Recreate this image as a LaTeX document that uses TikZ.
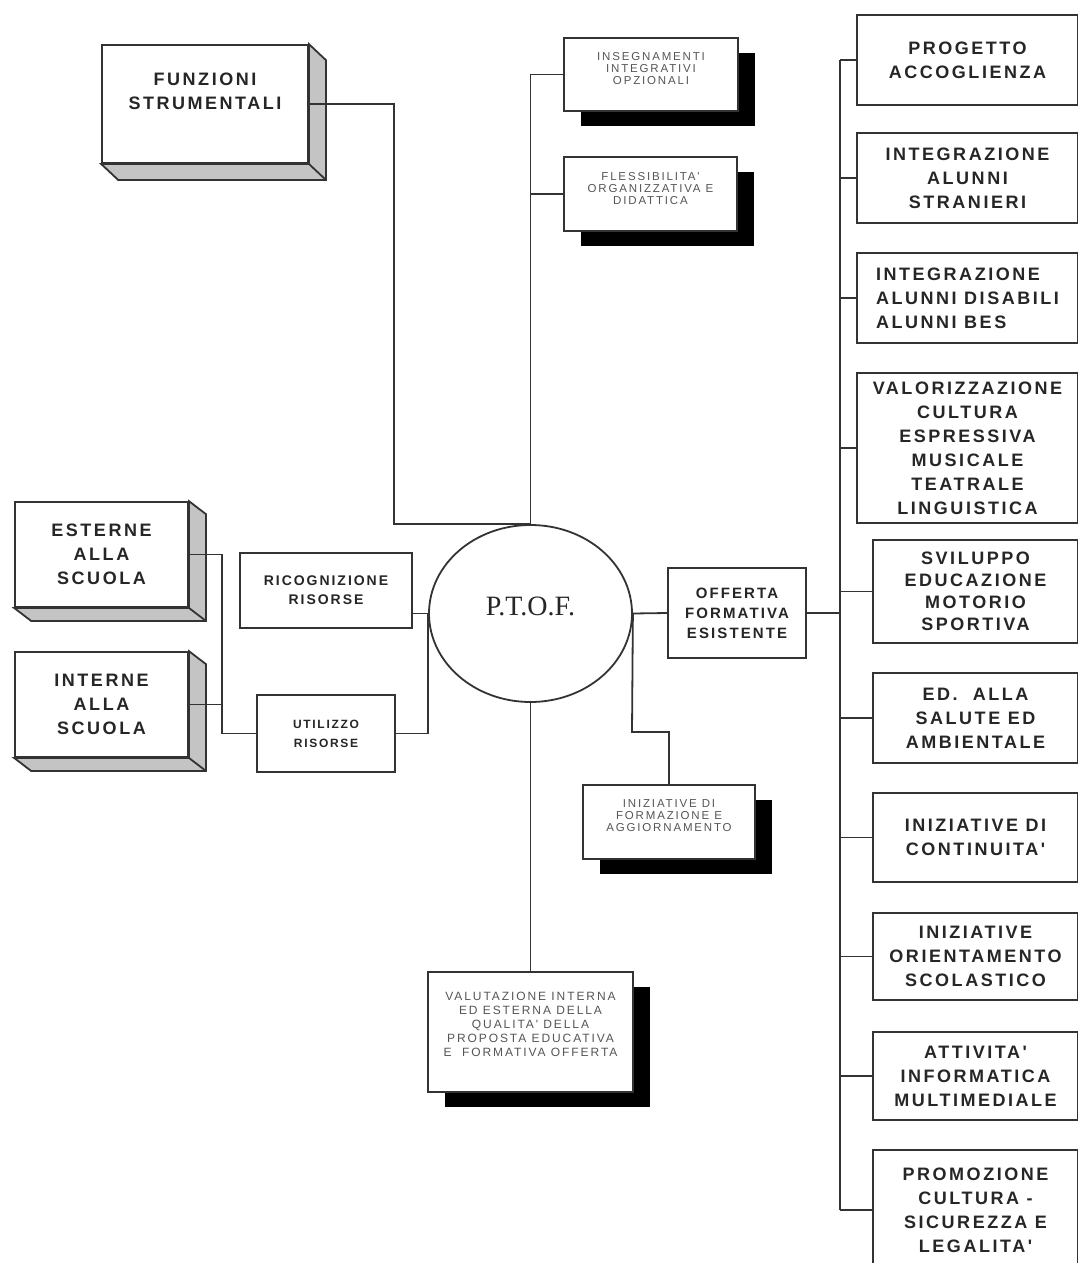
\documentclass[tikz,border=0pt]{standalone}
\usepackage{fontspec}
\usepackage{tikz}
\usetikzlibrary{shapes.geometric,shadows,calc}
\newfontfamily\sanstesto[LetterSpace=14]{Liberation Sans}
\newfontfamily\sanspiccolo[LetterSpace=16]{Liberation Sans}
\newfontfamily\serifptof{Liberation Serif}
\definecolor{linea}{HTML}{333333}
\definecolor{fianco}{HTML}{C4C4C4}
\definecolor{testo}{HTML}{262626}
\definecolor{testochiaro}{HTML}{555555}

\begin{document}
\begin{tikzpicture}[x=1pt,y=-1pt,
	conn/.style={draw=linea,line width=1.8pt},
	cubo/.style={conn,fill=white,align=center,inner sep=0pt,text=testo,
		font=\sanstesto\bfseries\fontsize{18}{24}\selectfont},
	voce/.style={conn,fill=white,align=center,inner sep=0pt,text=testo,
		font=\sanstesto\bfseries\fontsize{18}{24}\selectfont},
	riquadro/.style={conn,fill=white,align=center,inner sep=0pt,text=testo,
		font=\sanstesto\bfseries\fontsize{14}{19}\selectfont},
	ombra/.style={conn,fill=white,align=center,inner sep=0pt,text=testochiaro,text depth=12pt,
		font=\sanspiccolo\fontsize{11.5}{12}\selectfont,
		drop shadow={shadow xshift=17pt,shadow yshift=-15pt,fill=black,opacity=1}}]

	\fill[white] (0,0) rectangle (1077,1263);
	\useasboundingbox (0,0) rectangle (1077,1263);

	% centro
	\node[ellipse,conn,fill=white,minimum width=203pt,minimum height=177pt,inner sep=0pt,
		text=testo,text depth=15pt,font=\serifptof\fontsize{28}{30}\selectfont] (ptof) at (530.5,613.5) {P.T.O.F.};

	% riquadri in rilievo
	\node[cubo,minimum width=206pt,minimum height=118pt,text depth=26pt] (funz) at (205,104) {FUNZIONI\\STRUMENTALI};
	\node[cubo,minimum width=173pt,minimum height=105pt] (est) at (101.5,554.5) {ESTERNE\\ALLA\\SCUOLA};
	\node[cubo,minimum width=173pt,minimum height=105pt] (int) at (101.5,704.5) {INTERNE\\ALLA\\SCUOLA};
	\foreach \n/\dx/\dy in {funz/17/16,est/17/13,int/17/13}{
		\filldraw[conn,fill=fianco] (\n.north east) -- ++(\dx,\dy) -- ($(\n.south east)+(\dx,\dy)$)
			-- ($(\n.south west)+(\dx,\dy)$) -- (\n.south west) -- (\n.south east) -- cycle;
		\draw[conn] (\n.south east) -- ++(\dx,\dy);
	}

	\node[riquadro,minimum width=172pt,minimum height=75pt] (ricog) at (326,590.5) {RICOGNIZIONE\\RISORSE};
	\node[riquadro,minimum width=138pt,minimum height=77pt,font=\sanstesto\bfseries\fontsize{12}{19}\selectfont] (utilizzo) at (326,733.5) {UTILIZZO\\RISORSE};
	\node[riquadro,minimum width=138pt,minimum height=90pt,font=\sanstesto\bfseries\fontsize{15}{20}\selectfont] (offerta) at (737,613) {OFFERTA\\FORMATIVA\\ESISTENTE};

	% riquadri con ombra
	\node[ombra,minimum width=174pt,minimum height=73pt] (insegn) at (651,74.5) {INSEGNAMENTI\\INTEGRATIVI\\OPZIONALI};
	\node[ombra,minimum width=173pt,minimum height=74pt] (fless) at (650.5,194) {FLESSIBILITA'\\ORGANIZZATIVA E\\DIDATTICA};
	\node[ombra,minimum width=172pt,minimum height=74pt] (formaz) at (669,822) {INIZIATIVE DI\\FORMAZIONE E\\AGGIORNAMENTO};
	\node[ombra,minimum width=205pt,minimum height=120pt,text depth=16pt,font=\sanspiccolo\fontsize{12}{14}\selectfont] (valut) at (530.5,1032)
		{VALUTAZIONE INTERNA\\ED ESTERNA DELLA\\QUALITA' DELLA\\PROPOSTA EDUCATIVA\\E \ FORMATIVA OFFERTA};

	% colonna di destra
	\node[voce,minimum width=221pt,minimum height=90pt] (r1) at (967.5,60) {PROGETTO\\ACCOGLIENZA};
	\node[voce,minimum width=221pt,minimum height=90pt] (r2) at (967.5,178) {INTEGRAZIONE\\ALUNNI\\STRANIERI};
	\node[voce,minimum width=221pt,minimum height=90pt,align=left] (r3) at (967.5,298) {INTEGRAZIONE\\ALUNNI DISABILI\\ALUNNI BES};
	\node[voce,minimum width=221pt,minimum height=150pt] (r4) at (967.5,448) {VALORIZZAZIONE\\CULTURA\\ESPRESSIVA\\MUSICALE\\TEATRALE\\LINGUISTICA};
	\node[voce,minimum width=205pt,minimum height=103pt,font=\sanstesto\bfseries\fontsize{18}{22}\selectfont] (r5) at (975.5,591.5) {SVILUPPO\\EDUCAZIONE\\MOTORIO\\SPORTIVA};
	\node[voce,minimum width=205pt,minimum height=90pt] (r6) at (975.5,718) {ED.\ \ ALLA\\SALUTE ED\\AMBIENTALE};
	\node[voce,minimum width=205pt,minimum height=89pt] (r7) at (975.5,837.5) {INIZIATIVE DI\\CONTINUITA'};
	\node[voce,minimum width=205pt,minimum height=87pt] (r8) at (975.5,956.5) {INIZIATIVE\\ORIENTAMENTO\\SCOLASTICO};
	\node[voce,minimum width=205pt,minimum height=88pt] (r9) at (975.5,1076) {ATTIVITA'\\INFORMATICA\\MULTIMEDIALE};
	\node[voce,minimum width=205pt,minimum height=120pt] (r10) at (975.5,1210) {PROMOZIONE\\CULTURA -\\SICUREZZA E\\LEGALITA'};

	% collegamenti
	\coordinate (fx) at (394,0);
	\coordinate (lx) at (222,0);
	\coordinate (tx) at (840,0);
	\coordinate (kf) at (632,732);

	\draw[conn] (funz.east) -- (funz.east -| fx) |- (ptof.north);
	\draw[conn] (ptof.north) -- (ptof.north |- insegn.west) -- (insegn.west);
	\draw[conn] (fless.west) -- (fless.west -| ptof.north);
	\draw[conn] (est.east) -- (est.east -| lx) |- (utilizzo.west);
	\draw[conn] (int.east) -- (int.east -| lx);
	\draw[conn] (ricog.east |- ptof.west) -- (ptof.west);
	\draw[conn] (utilizzo.east) -| (ptof.west);
	\draw[conn] (ptof.east) -- (offerta.west);
	\draw[conn] (offerta.east) -- (offerta.east -| tx);
	\draw[conn] (ptof.east) -- (kf) -| (formaz.north);
	\draw[conn] (ptof.south) -- (valut.north);
	\draw[conn] (r1.west -| tx) -- (r10.west -| tx);
	\foreach \r in {r1,r2,r3,r4,r5,r6,r7,r8,r9,r10}
		\draw[conn] (\r.west -| tx) -- (\r.west);
\end{tikzpicture}
\end{document}
